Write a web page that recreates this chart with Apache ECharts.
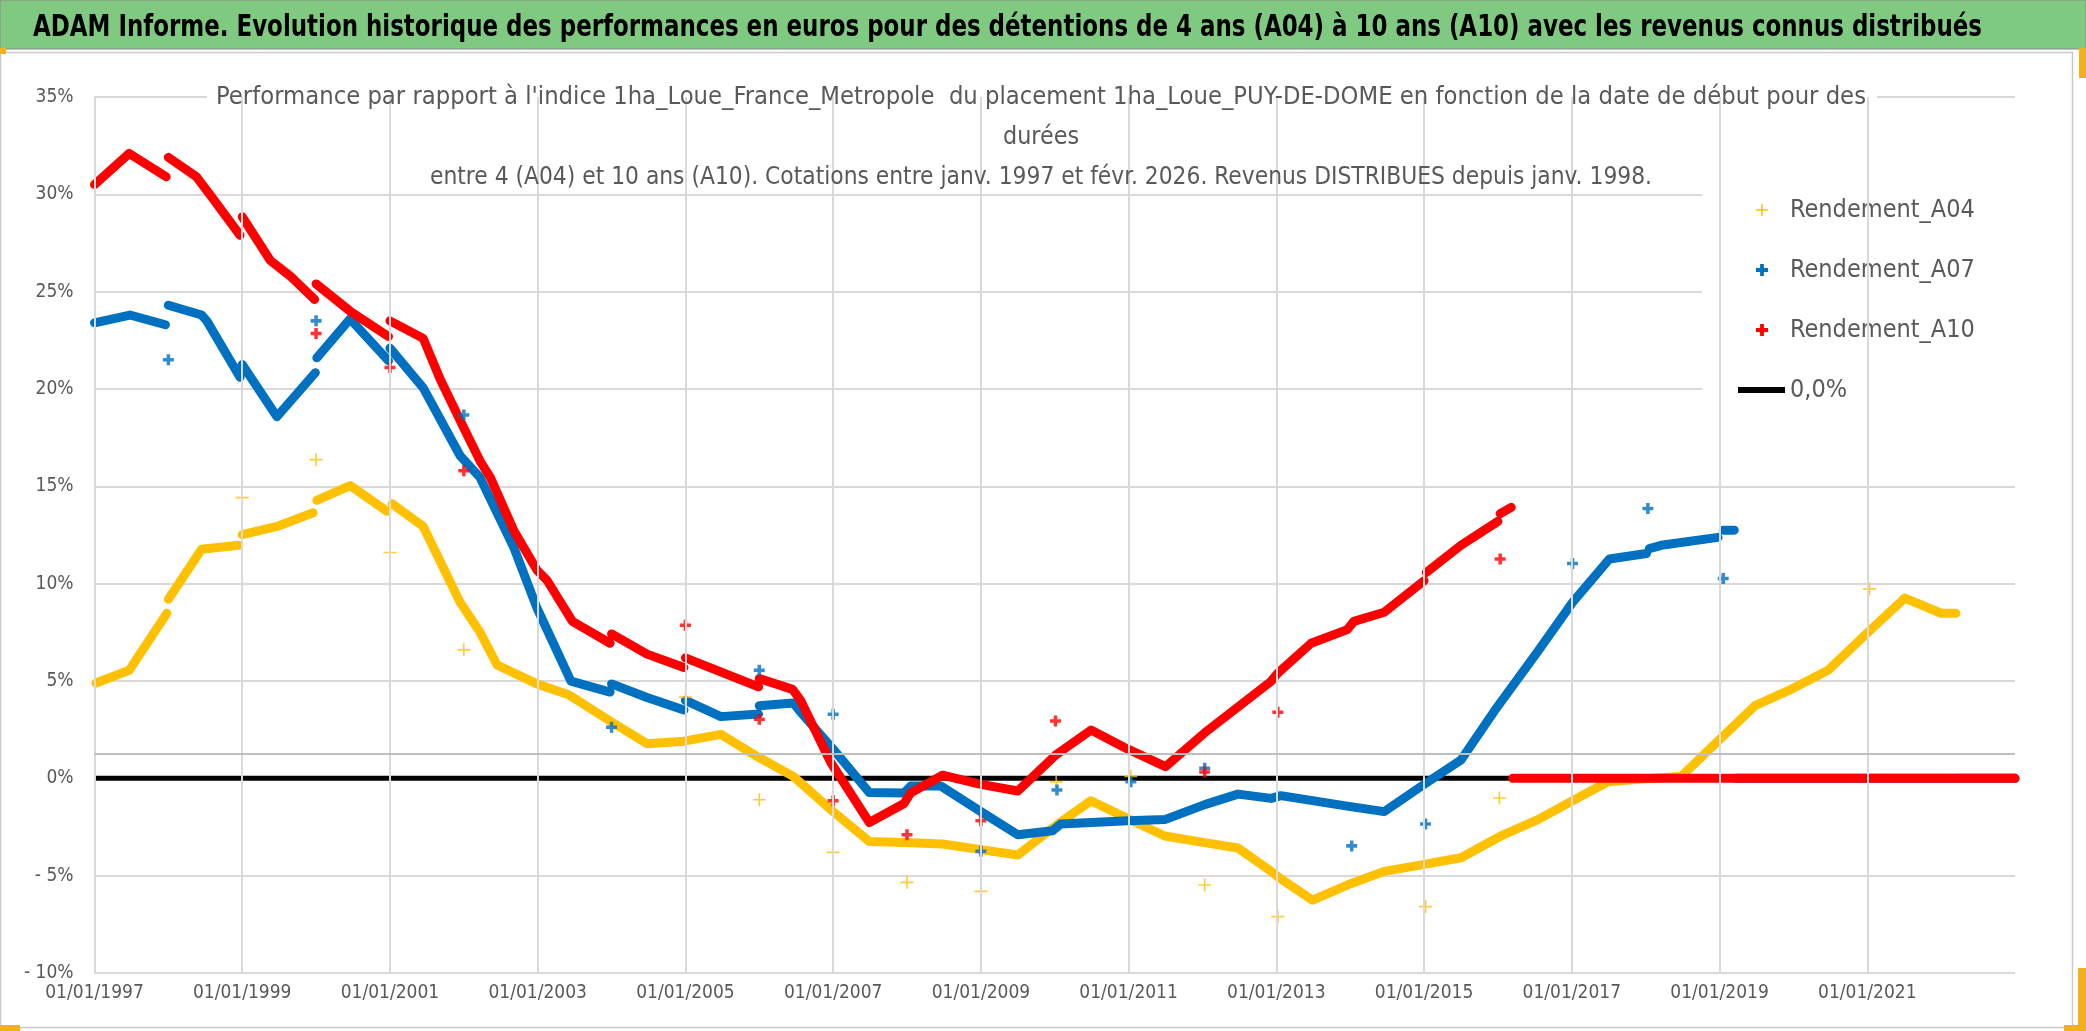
<!DOCTYPE html>
<html>
<head>
<meta charset="utf-8">
<script src="https://cdn.jsdelivr.net/npm/echarts@6/dist/echarts.min.js"></script>
<style>
html,body{margin:0;padding:0;background:#ffffff;}
#c{width:2086px;height:1031px;}
</style>
</head>
<body>
<div id="c"></div>
<script>
// ---------------- DATA ----------------
const mainTitle = 'ADAM Informe. Evolution historique des performances en euros pour des détentions de 4 ans (A04) à 10 ans (A10) avec les revenus connus distribués';
const subtitleLines = [
  "Performance par rapport à l'indice 1ha_Loue_France_Metropole  du placement 1ha_Loue_PUY-DE-DOME en fonction de la date de début pour des",
  "durées",
  "entre 4 (A04) et 10 ans (A10). Cotations entre janv. 1997 et févr. 2026. Revenus DISTRIBUES depuis janv. 1998."
];
const seriesNames = ['Rendement_A04', 'Rendement_A07', 'Rendement_A10'];
const zeroName = '0,0%';
const xTickYears = [1997, 1999, 2001, 2003, 2005, 2007, 2009, 2011, 2013, 2015, 2017, 2019, 2021];
const yTicks = [-10, -5, 0, 5, 10, 15, 20, 25, 30, 35];

// [decimal year, % value]; '-' marks a break between segments
const A04 = [
  [1997.02,4.9],[1997.47,5.55],[1997.98,8.48],[1997.99,'-'],
  [1998.0,9.2],[1998.45,11.77],[1998.95,11.97],[1998.97,'-'],
  [1999.0,12.52],[1999.47,12.94],[1999.96,13.64],[1999.98,'-'],
  [2000.01,14.28],[2000.46,15.04],[2000.96,13.72],[2000.99,'-'],
  [2001.03,14.1],[2001.45,12.94],[2001.95,9.04],[2002.22,7.5],[2002.45,5.82],[2002.99,4.85],
  [2003.42,4.29],[2004.0,2.89],[2004.48,1.78],[2004.98,1.91],[2005.48,2.26],[2005.99,1.08],
  [2006.46,0.1],[2007.0,-1.71],[2007.49,-3.24],[2007.96,-3.3],[2008.48,-3.37],[2009.0,-3.66],
  [2009.5,-3.94],[2010.02,-2.41],[2010.49,-1.15],[2010.99,-2.07],[2011.49,-2.96],[2012.03,-3.3],
  [2012.48,-3.58],[2012.93,-4.78],[2013.02,-5.06],[2013.49,-6.26],[2013.96,-5.48],[2014.46,-4.78],
  [2015.0,-4.42],[2015.5,-4.08],[2016.04,-2.96],[2016.54,-2.12],[2017.01,-1.15],[2017.49,-0.18],
  [2017.94,-0.03],[2018.48,0.1],[2018.98,1.92],[2019.48,3.73],[2019.97,4.57],[2020.47,5.55],
  [2021.01,7.5],[2021.51,9.26],[2022.0,8.48],[2022.2,8.48],[2022.21,'-'],
  [2022.22,0],[2023.0,0]
];
const A07 = [
  [1997.0,23.4],[1997.48,23.8],[1997.96,23.3],[1997.98,'-'],
  [1998.0,24.3],[1998.45,23.8],[1998.52,23.5],[1998.97,20.6],[1998.98,'-'],
  [1999.0,21.26],[1999.47,18.58],[1999.99,20.84],[2000.0,'-'],
  [2000.01,21.6],[2000.46,23.6],[2000.98,21.45],[2000.99,'-'],
  [2001.0,22.1],[2001.45,20.06],[2001.95,16.57],[2002.22,15.45],[2002.36,14.34],[2002.68,11.83],
  [2002.99,8.75],[2003.45,4.99],[2003.98,4.43],[2003.99,'-'],
  [2004.0,4.85],[2004.48,4.15],[2004.98,3.51],[2004.99,'-'],
  [2005.0,4.0],[2005.48,3.17],[2005.99,3.3],[2005.995,'-'],
  [2006.0,3.73],[2006.46,3.87],[2006.55,3.45],[2007.0,1.5],[2007.49,-0.73],[2007.96,-0.75],
  [2008.05,-0.4],[2008.46,-0.4],[2009.0,-1.71],[2009.5,-2.9],[2009.97,-2.69],[2010.08,-2.35],
  [2010.99,-2.18],[2011.49,-2.12],[2012.03,-1.35],[2012.48,-0.81],[2012.93,-1.03],[2013.06,-0.89],
  [2013.96,-1.43],[2014.46,-1.71],[2015.0,-0.31],[2015.5,0.94],[2015.95,3.45],[2016.54,6.52],
  [2017.01,9.04],[2017.51,11.27],[2018.01,11.55],[2018.03,'-'],
  [2018.05,11.8],[2018.21,11.97],[2018.98,12.38],[2019.0,'-'],
  [2019.05,12.75],[2019.2,12.75],[2019.21,'-'],
  [2019.22,0],[2023.0,0]
];
const A10 = [
  [1997.0,30.5],[1997.47,32.1],[1997.97,30.9],[1997.98,'-'],
  [1998.0,31.9],[1998.38,30.9],[1998.52,30.2],[1998.6,29.8],[1998.97,27.9],[1998.98,'-'],
  [1999.0,28.85],[1999.38,26.6],[1999.65,25.8],[1999.98,24.6],[1999.99,'-'],
  [2000.0,25.4],[2000.46,24.0],[2000.98,22.7],[2000.99,'-'],
  [2001.0,23.5],[2001.45,22.6],[2001.68,20.5],[2002.0,18.0],[2002.22,16.3],[2002.36,15.45],
  [2002.68,12.7],[2002.99,10.7],[2003.13,10.15],[2003.47,8.06],[2003.98,6.94],[2003.99,'-'],
  [2004.0,7.42],[2004.48,6.38],[2004.98,5.69],[2004.99,'-'],
  [2005.0,6.19],[2005.99,4.7],[2005.995,'-'],
  [2006.0,5.13],[2006.45,4.57],[2006.56,4.0],[2006.97,0.8],[2007.49,-2.27],[2007.96,-1.29],
  [2008.05,-0.75],[2008.48,0.16],[2009.0,-0.31],[2009.5,-0.65],[2010.02,1.22],[2010.49,2.48],
  [2010.99,1.5],[2011.5,0.6],[2012.03,2.34],[2012.93,4.99],[2013.02,5.4],[2013.47,6.94],
  [2013.96,7.64],[2014.05,8.06],[2014.46,8.53],[2015.0,10.15],[2015.01,'-'],
  [2015.03,10.57],[2015.5,11.97],[2016.0,13.2],[2016.01,'-'],
  [2016.03,13.6],[2016.18,13.92],[2016.19,'-'],
  [2016.2,0],[2023.0,0]
];
// isolated points
const A04_points = [
  [1999.0,14.42],[2000.0,16.37],[2001.0,11.6],[2002.0,6.6],[2005.0,4.17],[2006.0,-1.1],
  [2007.0,-3.8],[2008.0,-5.34],[2009.0,-5.81],[2010.02,-0.18],[2011.03,0.1],[2012.03,-5.48],
  [2013.02,-7.1],[2015.02,-6.59],[2016.02,-1.01],[2021.03,9.73]
];
const A07_points = [
  [1998.0,21.5],[2000.0,23.5],[2002.0,18.66],[2004.0,2.62],[2006.0,5.55],[2007.0,3.29],
  [2009.0,-3.75],[2010.03,-0.6],[2011.03,-0.18],[2012.03,0.52],[2014.02,-3.47],[2015.02,-2.35],
  [2017.01,11.04],[2018.03,13.86],[2019.05,10.26]
];
const A10_points = [
  [2000.0,22.85],[2001.0,21.1],[2002.0,15.8],[2005.0,7.86],[2006.0,3.03],[2007.0,-1.15],
  [2008.0,-2.9],[2009.0,-2.18],[2010.01,2.95],[2012.03,0.33],[2013.02,3.4],[2016.03,11.27]
];
const zeroLine = [[1997.0,0],[2023.0,0]];
const axisCrossValue = 1.25;

// ---------------- STYLE ----------------
const FONT = '"DejaVu Sans Condensed", "DejaVu Sans", sans-serif';
const GREY = '#595959';
const GRID = '#d9d9d9';
const COLORS = ['#FFC000', '#0070C0', '#FF0000'];
const plusThick = 'path://M3.4,0H6.6V3.4H10V6.6H6.6V10H3.4V6.6H0V3.4H3.4Z';
const plusThin = 'path://M4.35,0H5.65V4.35H10V5.65H5.65V10H4.35V5.65H0V4.35H4.35Z';

// fit the condensed font horizontally to the widths measured on the reference
const measureCtx = document.createElement('canvas').getContext('2d');
function textWidth(text, font) { measureCtx.font = font; return measureCtx.measureText(text).width; }
const TITLE_FONT = 'bold 30px ' + FONT;
const titleScale = 1949 / textWidth(mainTitle, TITLE_FONT);
const SUB_FONT = '25px ' + FONT;
const subScale1 = 1650 / textWidth(subtitleLines[0], SUB_FONT);
const subScale3 = 1222 / textWidth(subtitleLines[2], SUB_FONT);
const subScales = [subScale1, (subScale1 + subScale3) / 2, subScale3];

function mainSeries(name, data, color) {
  return {
    type: 'line', name: name, data: data, symbol: 'none', showSymbol: false,
    connectNulls: false, z: 3, silent: true,
    lineStyle: { color: color, width: 9, cap: 'round', join: 'round' },
    itemStyle: { color: color }
  };
}
function pointSeries(name, data, color, sym, size) {
  return {
    type: 'scatter', name: name, data: data, symbol: sym, symbolSize: size,
    z: 3, silent: true, itemStyle: { color: color }
  };
}
function subText(i, y) {
  return { type: 'text', z: 11, silent: true, x: 1041, y: y, scaleX: subScales[i],
    style: { text: subtitleLines[i], font: SUB_FONT, fill: GREY,
             textAlign: 'center', textVerticalAlign: 'middle', align: 'center', verticalAlign: 'middle' } };
}

const chart = echarts.init(document.getElementById('c'));
const option = {
  animation: false,
  backgroundColor: '#ffffff',
  grid: { left: 94.5, right: 71, top: 97, bottom: 58, containLabel: false },
  xAxis: {
    type: 'value', min: 1997, max: 2023, interval: 2,
    axisLine: { show: false }, axisTick: { show: false },
    splitLine: { show: false },
    axisLabel: {
      showMaxLabel: false, margin: 11,
      fontFamily: FONT, fontSize: 19, color: GREY,
      formatter: v => (xTickYears.indexOf(v) >= 0 ? '01/01/' + v : '')
    }
  },
  yAxis: {
    type: 'value', min: yTicks[0], max: yTicks[yTicks.length - 1], interval: 5,
    axisLine: { show: false }, axisTick: { show: false },
    splitLine: { lineStyle: { color: GRID, width: 2 } },
    axisLabel: {
      margin: 21, fontFamily: FONT, fontSize: 19, color: GREY,
      formatter: v => (v < 0 ? '- ' + Math.abs(v) + '%' : v + '%')
    }
  },
  legend: [
    {
      data: [
        { name: seriesNames[0], icon: plusThin },
        { name: seriesNames[1], icon: plusThick },
        { name: seriesNames[2], icon: plusThick }
      ],
      orient: 'vertical', left: 1756, top: 195, padding: 0,
      itemWidth: 12, itemHeight: 12, itemGap: 30, selectedMode: false,
      textStyle: { fontFamily: FONT, fontSize: 25, color: GREY, lineHeight: 30, padding: [0, 0, 0, 17] }
    },
    {
      data: [{ name: zeroName, icon: 'rect' }],
      orient: 'vertical', left: 1738, top: 375, padding: 0,
      itemWidth: 47, itemHeight: 6, selectedMode: false,
      textStyle: { fontFamily: FONT, fontSize: 25, color: GREY, lineHeight: 30 }
    }
  ],
  graphic: [
    // outer chart frame
    { type: 'rect', z: 0, silent: true, shape: { x: 0.5, y: 52.5, width: 2072, height: 975 },
      style: { fill: 'none', stroke: '#c9c9c9', lineWidth: 1.5 } },
    // green banner
    { type: 'rect', z: 10, silent: true, shape: { x: 0, y: 0, width: 2086, height: 49 },
      style: { fill: '#80C980', stroke: '#8a8a8a', lineWidth: 1 } },
    { type: 'text', z: 11, silent: true, x: 33, y: 28, scaleX: titleScale,
      style: { text: mainTitle, font: TITLE_FONT, fill: '#000000',
               textAlign: 'left', textVerticalAlign: 'middle', align: 'left', verticalAlign: 'middle' } },
    // selection handles
    { type: 'rect', z: 11, silent: true, shape: { x: 0, y: 48, width: 6, height: 6 }, style: { fill: '#F2B01E' } },
    { type: 'rect', z: 11, silent: true, shape: { x: 2079, y: 48, width: 7, height: 30 }, style: { fill: '#F2B01E' } },
    { type: 'rect', z: 11, silent: true, shape: { x: 0, y: 1025, width: 20, height: 6 }, style: { fill: '#F2B01E' } },
    { type: 'rect', z: 11, silent: true, shape: { x: 2078, y: 968, width: 8, height: 63 }, style: { fill: '#F2B01E' } },
    { type: 'rect', z: 11, silent: true, shape: { x: 2064, y: 1025, width: 22, height: 6 }, style: { fill: '#F2B01E' } },
    // white boxes behind the chart title and the legend
    { type: 'rect', z: 1, silent: true, shape: { x: 207, y: 76, width: 1670, height: 118 }, style: { fill: '#ffffff' } },
    { type: 'rect', z: 1, silent: true, shape: { x: 1702, y: 186, width: 330, height: 236 }, style: { fill: '#ffffff' } },
    // chart title lines
    subText(0, 97), subText(1, 137), subText(2, 177)
  ],
  series: [
    {
      type: 'line', name: zeroName, data: zeroLine, symbol: 'none', z: 0.5, silent: true,
      lineStyle: { color: '#000000', width: 5 }, itemStyle: { color: '#000000' },
      markLine: {
        silent: true, symbol: ['none', 'none'], label: { show: false }, animation: false,
        data: xTickYears.map(y => ({ xAxis: y, lineStyle: { color: GRID, width: 2, type: 'solid' } }))
          .concat([{ yAxis: axisCrossValue, lineStyle: { color: '#bfbfbf', width: 2, type: 'solid' } }])
      }
    },
    mainSeries(seriesNames[0], A04, COLORS[0]),
    pointSeries(seriesNames[0], A04_points, COLORS[0], plusThin, 13),
    mainSeries(seriesNames[1], A07, COLORS[1]),
    pointSeries(seriesNames[1], A07_points, COLORS[1], plusThick, 11),
    mainSeries(seriesNames[2], A10, COLORS[2]),
    pointSeries(seriesNames[2], A10_points, COLORS[2], plusThick, 11)
  ]
};
chart.setOption(option);
</script>
</body>
</html>
